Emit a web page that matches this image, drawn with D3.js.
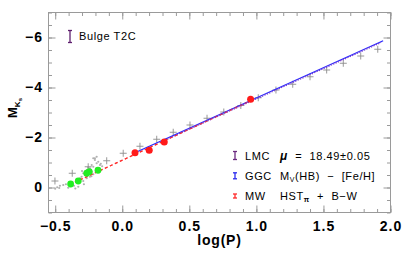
<!DOCTYPE html>
<html>
<head>
<meta charset="utf-8">
<script src="https://cdn.jsdelivr.net/npm/d3@7"></script>
<style>
  body { margin: 0; background: #fff; }
  svg text { font-family: "Liberation Sans", Arial, sans-serif; }
  .tk text { font-size: 14px; font-weight: bold; letter-spacing: 1px; fill: #000; }
  .tk line { stroke: #9a9a9a; }
  .tk path { display: none; }
  .lab { font-size: 11px; letter-spacing: 0.6px; fill: #000; }
</style>
</head>
<body>
<div id="viz"></div>
<script>
// values: [log(P), M_Ks]
var crosses = [[-0.502,-0.26],[-0.373,-0.57],[-0.254,-0.83],[-0.116,-1.07],[0.007,-1.37],
               [0.132,-1.65],[0.257,-1.93],[0.380,-2.21],[0.505,-2.50],[0.632,-2.77],
               [0.757,-3.02],[0.884,-3.28],[1.014,-3.59],[1.146,-3.90],[1.271,-4.13],
               [1.400,-4.43],[1.524,-4.70],[1.648,-4.97],[1.778,-5.26],[1.905,-5.53]];

var dots = [[-0.485,-0.01],[-0.465,-0.07],[-0.44,-0.10],[-0.42,-0.13],[-0.403,0.01],[-0.39,-0.17],
            [-0.36,-0.07],[-0.34,-0.30],[-0.328,-0.21],[-0.315,-0.37],[-0.303,-0.43],[-0.291,-0.26],
            [-0.278,-0.50],[-0.265,-0.37],[-0.254,-0.57],[-0.241,-0.43],[-0.228,-0.63],[-0.216,-0.53],
            [-0.216,-1.17],[-0.204,-1.10],[-0.191,-0.97],[-0.179,-1.03],[-0.166,-0.90],[-0.228,-0.90],
            [-0.241,-0.77],[-0.196,-0.70],[-0.179,-0.77],[-0.265,-0.70],[-0.291,-0.57],[-0.328,-0.03],
            [-0.286,-0.13],[-0.191,-1.23],[-0.204,-1.17],[-0.216,-0.83],[-0.254,-0.80],[-0.30,-0.66],
            [-0.15,-0.85],[-0.16,-0.95],[-0.23,-0.45],[-0.50,0.05],[-0.47,0.02],[-0.35,0.04]];

var greenPts = [[-0.385,-0.14],[-0.328,-0.26],[-0.265,-0.57],[-0.246,-0.63],[-0.181,-0.69]];
var redPts = [[0.095,-1.39],[0.201,-1.49],[0.313,-1.82],[0.957,-3.53]];

// relation end points
var mwLine = [[-0.39,-0.12],[0.96,-3.48]];
var ggcLine = [[0.09,-1.38],[1.945,-5.87]];
var lmcLine = [[0.30,-1.85],[1.93,-5.80]];

var xMajor = [-0.5, 0.0, 0.5, 1.0, 1.5, 2.0];
var yMajor = [-6, -4, -2, 0];

var W = 407, H = 253,
    pLeft = 48.5, pRight = 390.5, pTop = 12.5, pBottom = 212.5;

var svg = d3.select("div#viz").append("svg")
            .attr("width", W).attr("height", H);

var x = d3.scaleLinear().domain([-0.55, 2.0]).range([pLeft, pRight]),
    y = d3.scaleLinear().domain([1, -7]).range([pBottom, pTop]);

var xMinor = d3.range(-0.5, 2.001, 0.1).map(function(v) { return +v.toFixed(1); }),
    yMinor = d3.range(-7, 1.001, 0.5);

// axes, ticks pointing inwards on all four sides
function axis(gen, tr, vals, size, fmt, pad) {
    svg.append("g").attr("class", "tk")
       .attr("transform", tr)
       .call(gen.tickValues(vals).tickSize(-size).tickPadding(pad)
                .tickFormat(fmt ? fmt : ""));
}
axis(d3.axisBottom(x), "translate(0," + pBottom + ")", xMinor, 3.5, null, 0);
axis(d3.axisBottom(x), "translate(0," + pBottom + ")", xMajor, 7, d3.format(".1f"), 8.5);
axis(d3.axisTop(x), "translate(0," + pTop + ")", xMinor, 3.5, null, 0);
axis(d3.axisTop(x), "translate(0," + pTop + ")", xMajor, 7, null, 0);
axis(d3.axisLeft(y), "translate(" + pLeft + ",0)", yMinor, 3.5, null, 0);
axis(d3.axisLeft(y), "translate(" + pLeft + ",0)", yMajor, 7, d3.format("d"), 5.5);
axis(d3.axisRight(y), "translate(" + pRight + ",0)", yMinor, 3.5, null, 0);
axis(d3.axisRight(y), "translate(" + pRight + ",0)", yMajor, 7, null, 0);

svg.append("rect")
   .attr("x", pLeft).attr("y", pTop)
   .attr("width", pRight - pLeft).attr("height", pBottom - pTop)
   .attr("fill", "none").attr("stroke", "#9a9a9a").attr("stroke-width", 1);

// small gray dots
svg.append("g").selectAll("circle")
   .data(dots).enter().append("circle")
   .attr("cx", function(d) { return x(d[0]); })
   .attr("cy", function(d) { return y(d[1]); })
   .attr("r", 1.1)
   .attr("fill", "#b0b0b0");

// gray crosses
var cs = 3.5;
svg.append("g").selectAll("path")
   .data(crosses).enter().append("path")
   .attr("d", function(d) {
       var cx = x(d[0]), cy = y(d[1]);
       return "M" + (cx - cs) + "," + cy + "H" + (cx + cs) +
              "M" + cx + "," + (cy - cs) + "V" + (cy + cs);
   })
   .attr("stroke", "#8c8c8c").attr("stroke-width", 0.9).attr("fill", "none");

var line = d3.line().x(function(d) { return x(d[0]); })
                    .y(function(d) { return y(d[1]); });

svg.append("path").attr("d", line(mwLine))
   .attr("stroke", "#ff2a2a").attr("stroke-width", 1.3)
   .attr("stroke-dasharray", "3,2.5").attr("fill", "none");
svg.append("path").attr("d", line(ggcLine))
   .attr("stroke", "#2a2aff").attr("stroke-width", 1.3).attr("fill", "none");
svg.append("path").attr("d", line(lmcLine))
   .attr("stroke", "#7a3fd0").attr("stroke-width", 1.3)
   .attr("stroke-dasharray", "1.3,1.3").attr("fill", "none");
svg.append("path").attr("d", line(mwLine))
   .attr("stroke", "#ff2a2a").attr("stroke-width", 1.1)
   .attr("stroke-dasharray", "3,2.5").attr("opacity", 0.6).attr("fill", "none");

svg.append("g").selectAll("circle")
   .data(greenPts).enter().append("circle")
   .attr("cx", function(d) { return x(d[0]); })
   .attr("cy", function(d) { return y(d[1]); })
   .attr("r", 3.4).attr("fill", "#22ee22");

svg.append("g").selectAll("circle")
   .data(redPts).enter().append("circle")
   .attr("cx", function(d) { return x(d[0]); })
   .attr("cy", function(d) { return y(d[1]); })
   .attr("r", 3.5).attr("fill", "#ff1a1a");

// error bar glyphs for the legends
function ebar(cx, cy, h, col) {
    var g = svg.append("g").attr("stroke", col).attr("stroke-width", 1.3);
    g.append("line").attr("x1", cx).attr("x2", cx).attr("y1", cy - h / 2).attr("y2", cy + h / 2);
    g.append("line").attr("x1", cx - 2).attr("x2", cx + 2).attr("y1", cy - h / 2).attr("y2", cy - h / 2);
    g.append("line").attr("x1", cx - 2).attr("x2", cx + 2).attr("y1", cy + h / 2).attr("y2", cy + h / 2);
}

ebar(70, 36.5, 12, "#5e1f6e");
svg.append("text").attr("class", "lab").attr("x", 79).attr("y", 40).text("Bulge T2C");

ebar(235, 155.5, 8, "#6b2a80");
ebar(235, 175.8, 6, "#2a2aee");
ebar(235, 196, 4, "#ff2a2a");

svg.append("text").attr("class", "lab").attr("x", 245).attr("y", 159.5).text("LMC");
svg.append("text").attr("class", "lab").attr("x", 245).attr("y", 180).text("GGC");
svg.append("text").attr("class", "lab").attr("x", 245).attr("y", 200).text("MW");

var t1 = svg.append("text").attr("class", "lab").attr("x", 280).attr("y", 159.5)
            .attr("xml:space", "preserve");
t1.append("tspan").attr("font-style", "italic").attr("font-weight", "bold")
  .attr("font-size", "12px").text("\u03bc");
t1.append("tspan").text("  =  18.49\u00b10.05");

var t2 = svg.append("text").attr("class", "lab").attr("x", 280).attr("y", 180)
            .attr("xml:space", "preserve");
t2.append("tspan").text("M");
t2.append("tspan").attr("font-size", "7px").attr("dy", 2).text("V");
t2.append("tspan").attr("dy", -2).text("(HB)  \u2212  [Fe/H]");

var t3 = svg.append("text").attr("class", "lab").attr("x", 280).attr("y", 200)
            .attr("xml:space", "preserve");
t3.append("tspan").text("HST");
t3.append("tspan").attr("font-size", "7px").attr("font-weight", "bold").attr("dy", 2).text("\u03c0");
t3.append("tspan").attr("dy", -2).text("  +  B\u2212W");

// axis titles
svg.append("text")
   .attr("x", (pLeft + pRight) / 2).attr("y", 245)
   .attr("text-anchor", "middle")
   .attr("font-size", "14px").attr("font-weight", "bold").attr("letter-spacing", "0.8px")
   .text("log(P)");

var yl = svg.append("text")
   .attr("transform", "translate(17,108) rotate(-90)")
   .attr("text-anchor", "middle")
   .attr("font-size", "13px").attr("font-weight", "bold");
yl.append("tspan").text("M");
yl.append("tspan").attr("font-size", "8px").attr("dy", 3).text("K");
yl.append("tspan").attr("font-size", "6px").attr("dy", 2).text("s");
</script>
</body>
</html>
